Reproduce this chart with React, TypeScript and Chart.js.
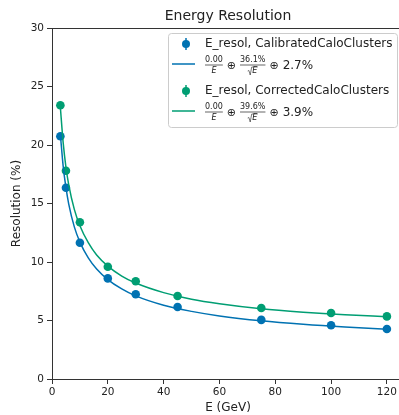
import React, { useEffect, useRef } from 'react';
import { Chart, registerables } from 'chart.js';

Chart.register(...registerables);

// Measured points (energy in GeV, resolution in %)
const E_POINTS = [3, 5, 10, 20, 30, 45, 75, 100, 120];
const CALIB_RES = [20.75, 16.35, 11.65, 8.6, 7.25, 6.15, 5.05, 4.6, 4.27];
const CORR_RES = [23.4, 17.8, 13.4, 9.6, 8.35, 7.1, 6.07, 5.64, 5.35];

// Fit curves
const FIT_E = [3, 4, 5, 6, 8, 10, 13, 16, 20, 25, 30, 40, 50, 60, 75, 90, 105, 120];
const CALIB_FIT = [20.9, 18.2, 16.35, 14.95, 13.0, 11.7, 10.35, 9.4, 8.5, 7.7, 7.1, 6.3, 5.78, 5.39, 4.97, 4.67, 4.44, 4.26];
const CORR_FIT = [23.2, 20.2, 18.1, 16.6, 14.5, 13.1, 11.65, 10.6, 9.65, 8.8, 8.2, 7.38, 6.82, 6.43, 6.0, 5.71, 5.49, 5.33];

const LABEL_CALIB = 'E_resol, CalibratedCaloClusters';
const LABEL_CORR = 'E_resol, CorrectedCaloClusters';
const FIT_CALIB = { a: '0.00', b: '36.1%', c: '2.7%' };
const FIT_CORR = { a: '0.00', b: '39.6%', c: '3.9%' };

const BLUE = '#0072B2';
const GREEN = '#009E73';
const FONT = 'DejaVu Sans';
const TEXT = '#222222';
const AXIS = '#333333';

const pts = (xs: number[], ys: number[]) => xs.map((x, i) => ({ x, y: ys[i] }));

export default function App() {
  const ref = useRef<HTMLCanvasElement>(null);

  useEffect(() => {
    document.body.style.margin = '0';
    const canvas = ref.current!;

    const drawFormula = (ctx: CanvasRenderingContext2D, x0: number, cy: number, f: { a: string; b: string; c: string }) => {
      let x = x0;
      const small = `8px ${FONT}`;
      const smallIt = `italic 8px ${FONT}`;
      ctx.textBaseline = 'middle';
      ctx.fillStyle = TEXT;
      ctx.strokeStyle = TEXT;
      // fraction 1: a / E
      ctx.font = small;
      const w1 = ctx.measureText(f.a).width;
      ctx.textAlign = 'center';
      ctx.fillText(f.a, x + w1 / 2, cy - 5);
      ctx.lineWidth = 0.7;
      ctx.beginPath();
      ctx.moveTo(x, cy);
      ctx.lineTo(x + w1, cy);
      ctx.stroke();
      ctx.font = smallIt;
      ctx.fillText('E', x + w1 / 2, cy + 5.5);
      x += w1 + 4;
      // oplus
      ctx.font = `11px ${FONT}`;
      ctx.textAlign = 'left';
      ctx.fillText('\u2295', x, cy + 1);
      x += ctx.measureText('\u2295').width + 4;
      // fraction 2: b / sqrt(E)
      ctx.font = small;
      const w2 = ctx.measureText(f.b).width;
      ctx.textAlign = 'center';
      ctx.fillText(f.b, x + w2 / 2, cy - 5);
      ctx.lineWidth = 0.7;
      ctx.beginPath();
      ctx.moveTo(x, cy);
      ctx.lineTo(x + w2, cy);
      ctx.stroke();
      // sqrt(E)
      ctx.font = smallIt;
      const we = ctx.measureText('E').width;
      const sx = x + w2 / 2 - (we + 5) / 2;
      ctx.beginPath();
      ctx.moveTo(sx, cy + 6);
      ctx.lineTo(sx + 1.2, cy + 5.5);
      ctx.lineTo(sx + 2.5, cy + 10);
      ctx.lineTo(sx + 4, cy + 2);
      ctx.lineTo(sx + 5 + we, cy + 2);
      ctx.lineWidth = 0.6;
      ctx.stroke();
      ctx.textAlign = 'left';
      ctx.fillText('E', sx + 4.5, cy + 6.2);
      x += w2 + 4;
      ctx.font = `11px ${FONT}`;
      ctx.fillText('\u2295', x, cy + 1);
      x += ctx.measureText('\u2295').width + 4;
      ctx.font = `12px ${FONT}`;
      ctx.fillText(f.c, x, cy + 1);
    };

    const overlay = {
      id: 'overlay',
      afterDraw(chart: any) {
        const ctx: CanvasRenderingContext2D = chart.ctx;
        const ca = chart.chartArea;
        ctx.save();
        // top frame line and bottom axis continued to the canvas edge
        ctx.strokeStyle = AXIS;
        ctx.lineWidth = 1;
        ctx.beginPath();
        ctx.moveTo(ca.left, ca.top + 0.5);
        ctx.lineTo(chart.width, ca.top + 0.5);
        ctx.moveTo(ca.right - 1, Math.round(ca.bottom) + 0.5);
        ctx.lineTo(chart.width, Math.round(ca.bottom) + 0.5);
        ctx.stroke();
        // title
        ctx.fillStyle = TEXT;
        ctx.font = `14px ${FONT}`;
        ctx.textAlign = 'center';
        ctx.textBaseline = 'middle';
        ctx.fillText('Energy Resolution', 228, 16);
        // axis titles
        ctx.font = `12px ${FONT}`;
        ctx.fillText('E (GeV)', 228, 408);
        ctx.save();
        ctx.translate(17, (ca.top + ca.bottom) / 2);
        ctx.rotate(-Math.PI / 2);
        ctx.fillText('Resolution (%)', 0, 0);
        ctx.restore();
        // legend box
        ctx.fillStyle = 'rgba(255,255,255,0.8)';
        ctx.strokeStyle = '#cccccc';
        ctx.lineWidth = 1;
        ctx.beginPath();
        (ctx as any).roundRect(168.5, 33.5, 229, 94, 3);
        ctx.fill();
        ctx.stroke();
        const marker = (cx: number, cy: number, col: string) => {
          ctx.strokeStyle = col;
          ctx.lineWidth = 1.5;
          ctx.beginPath();
          ctx.moveTo(cx, cy - 6);
          ctx.lineTo(cx, cy + 6);
          ctx.stroke();
          ctx.fillStyle = col;
          ctx.beginPath();
          ctx.arc(cx, cy, 4, 0, Math.PI * 2);
          ctx.fill();
        };
        const lineSample = (cy: number, col: string) => {
          ctx.strokeStyle = col;
          ctx.lineWidth = 1.5;
          ctx.beginPath();
          ctx.moveTo(172, cy);
          ctx.lineTo(195, cy);
          ctx.stroke();
        };
        marker(186, 44, BLUE);
        ctx.fillStyle = TEXT;
        ctx.font = `12px ${FONT}`;
        ctx.textAlign = 'left';
        ctx.textBaseline = 'middle';
        ctx.fillText(LABEL_CALIB, 205, 44);
        lineSample(64, BLUE);
        drawFormula(ctx, 205, 65, FIT_CALIB);
        marker(186, 91, GREEN);
        ctx.fillStyle = TEXT;
        ctx.font = `12px ${FONT}`;
        ctx.textAlign = 'left';
        ctx.textBaseline = 'middle';
        ctx.fillText(LABEL_CORR, 205, 91);
        lineSample(111, GREEN);
        drawFormula(ctx, 205, 112, FIT_CORR);
        ctx.restore();
      },
    };

    const tickFont = { family: FONT, size: 10.5 };

    const chart = new Chart(canvas, {
      type: 'scatter',
      data: {
        datasets: [
          {
            label: 'fit calib',
            data: pts(FIT_E, CALIB_FIT),
            showLine: true,
            borderColor: BLUE,
            borderWidth: 1.5,
            pointRadius: 0,
            cubicInterpolationMode: 'monotone',
          } as any,
          {
            label: 'fit corr',
            data: pts(FIT_E, CORR_FIT),
            showLine: true,
            borderColor: GREEN,
            borderWidth: 1.5,
            pointRadius: 0,
            cubicInterpolationMode: 'monotone',
          } as any,
          {
            label: LABEL_CALIB,
            data: pts(E_POINTS, CALIB_RES),
            backgroundColor: BLUE,
            borderColor: BLUE,
            pointRadius: 4.3,
            borderWidth: 0,
          },
          {
            label: LABEL_CORR,
            data: pts(E_POINTS, CORR_RES),
            backgroundColor: GREEN,
            borderColor: GREEN,
            pointRadius: 4.3,
            borderWidth: 0,
          },
        ],
      },
      options: {
        responsive: false,
        animation: false,
        devicePixelRatio: 1,
        layout: { padding: { top: 28, left: 0, right: 0, bottom: 0 } },
        plugins: {
          legend: { display: false },
          title: { display: false },
          tooltip: { enabled: false },
        },
        scales: {
          x: {
            type: 'linear',
            min: 0,
            max: 122.6,
            ticks: { stepSize: 20, includeBounds: false, font: tickFont, color: TEXT, padding: 2, maxRotation: 0 },
            grid: { drawOnChartArea: false, tickLength: 5, color: AXIS },
            border: { color: AXIS },
            afterFit: (s: any) => { s.height = 36; },
          },
          y: {
            type: 'linear',
            min: 0,
            max: 30,
            ticks: { stepSize: 5, font: tickFont, color: TEXT, padding: 3 },
            grid: { drawOnChartArea: false, tickLength: 5, color: AXIS },
            border: { color: AXIS },
            afterFit: (s: any) => { s.width = 52; },
          },
        },
      },
      plugins: [overlay],
    });
    return () => chart.destroy();
  }, []);

  return <canvas ref={ref} width={399} height={415} style={{ display: 'block' }} />;
}
